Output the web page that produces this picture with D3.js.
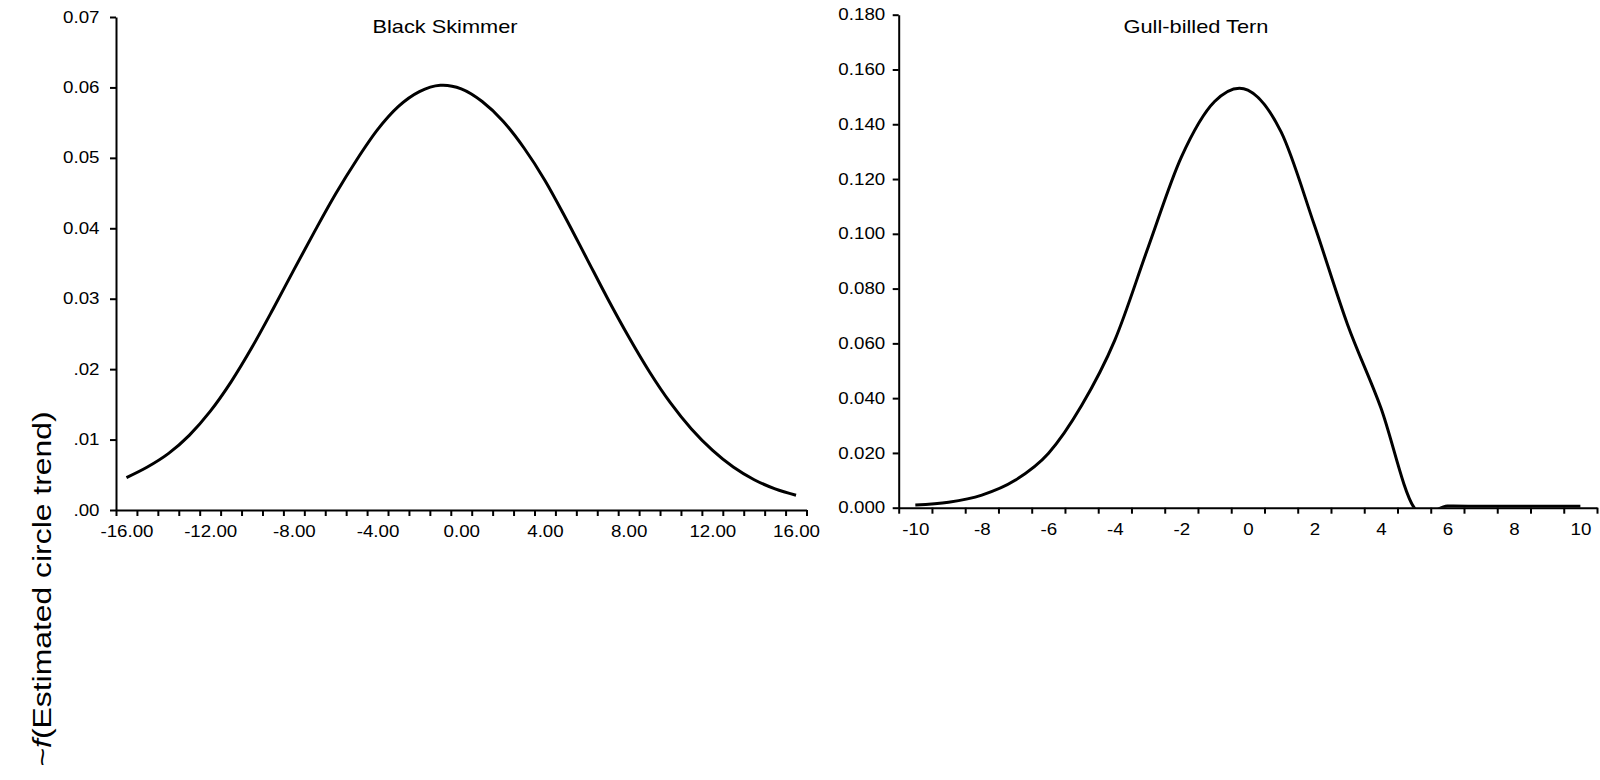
<!DOCTYPE html>
<html>
<head>
<meta charset="utf-8">
<script src="https://cdn.jsdelivr.net/npm/d3@7"></script>
<style>
  html, body { margin: 0; padding: 0; background: #fff; }
  svg { display: block; }
  text { font-family: "Liberation Sans", Arial, Helvetica, sans-serif; fill: #000; }
</style>
</head>
<body>
<svg id="chart" width="1600" height="780"></svg>
<script>
// ---------------- DATA ----------------
const skimmerTitle = "Black Skimmer";
const skimmerCategories = [-16,-15,-14,-13,-12,-11,-10,-9,-8,-7,-6,-5,-4,-3,-2,-1,0,1,2,3,4,5,6,7,8,9,10,11,12,13,14,15,16];
const skimmerDensity = [0.0046,0.0061,0.0080,0.0106,0.0140,0.0182,0.0231,0.0285,0.0341,0.0396,0.0449,0.0497,0.0540,0.0573,0.0594,0.0603,
                        0.0598,0.0580,0.0552,0.0514,0.0468,0.0414,0.0357,0.0300,0.0246,0.0196,0.0152,0.0115,0.0085,0.0061,0.0043,0.0030,0.0021];
const skimmerXLabelValues = [-16,-12,-8,-4,0,4,8,12,16];
const skimmerXLabels = ["-16.00","-12.00","-8.00","-4.00","0.00","4.00","8.00","12.00","16.00"];
const skimmerYTickValues = [0,0.01,0.02,0.03,0.04,0.05,0.06,0.07];
const skimmerYLabels = [".00",".01",".02","0.03","0.04","0.05","0.06","0.07"];

const ternTitle = "Gull-billed Tern";
const ternCategories = [-10,-9,-8,-7,-6,-5,-4,-3,-2,-1,0,1,2,3,4,5,6,7,8,9,10];
const ternDensity = [0.0010,0.0020,0.0046,0.0100,0.0198,0.0373,0.0612,0.0950,0.1280,0.1483,0.1525,0.1372,0.1032,0.0668,0.0365,0.0000,
                     0.0006,0.0005,0.0005,0.0005,0.0005];
const ternXLabelValues = [-10,-8,-6,-4,-2,0,2,4,6,8,10];
const ternXLabels = ["-10","-8","-6","-4","-2","0","2","4","6","8","10"];
const ternYTickValues = [0,0.02,0.04,0.06,0.08,0.10,0.12,0.14,0.16,0.18];
const ternYLabels = ["0.000","0.020","0.040","0.060","0.080","0.100","0.120","0.140","0.160","0.180"];

const yAxisTitleSymbol = "f";
const yAxisTitleRest = "(Estimated circle trend)";

// ---------------- LAYOUT ----------------
const svg = d3.select("#chart");
const STRETCH = 1.17;

function stretchTexts(sel) {
  sel.selectAll("text").each(function () {
    const w = this.getComputedTextLength();
    d3.select(this).attr("textLength", w * STRETCH).attr("lengthAdjust", "spacingAndGlyphs");
  });
}

function panel(cfg) {
  const cats = cfg.categories;
  const x = d3.scaleLinear()
    .domain([d3.min(cats) - 0.5, d3.max(cats) + 0.5])
    .range([cfg.left, cfg.right]);
  const y = d3.scaleLinear()
    .domain([0, d3.max(cfg.yTicks)])
    .range([cfg.bottom, cfg.top]);

  const g = svg.append("g");

  const clipId = "clip-" + cfg.id;
  g.append("clipPath").attr("id", clipId)
    .append("rect")
    .attr("x", cfg.left).attr("y", cfg.top)
    .attr("width", cfg.right - cfg.left).attr("height", cfg.bottom - cfg.top);

  const yAxis = g.append("g")
    .attr("transform", `translate(${cfg.left},0)`)
    .call(d3.axisLeft(y)
      .tickValues(cfg.yTicks)
      .tickFormat((d, i) => cfg.yLabels[i])
      .tickSize(6).tickSizeOuter(0).tickPadding(cfg.yPad));
  yAxis.selectAll("text").style("font-size", "16px");
  yAxis.select(".domain").attr("stroke-width", 2);
  yAxis.selectAll(".tick line").attr("stroke-width", 2);
  stretchTexts(yAxis);

  const bounds = d3.range(cats.length + 1).map(i => d3.min(cats) - 0.5 + i);
  const xAxis = g.append("g")
    .attr("transform", `translate(0,${cfg.bottom})`)
    .call(d3.axisBottom(x).tickValues(bounds).tickFormat("").tickSize(6).tickSizeOuter(0));
  xAxis.select(".domain").attr("stroke-width", 2);
  xAxis.selectAll(".tick line").attr("stroke-width", 2);

  const xLab = g.append("g")
    .attr("transform", `translate(0,${cfg.bottom})`)
    .call(d3.axisBottom(x).tickValues(cfg.xLabelValues)
      .tickFormat((d, i) => cfg.xLabels[i]).tickSize(0).tickPadding(15.5));
  xLab.select(".domain").remove();
  xLab.selectAll("text").style("font-size", "16px");
  stretchTexts(xLab);

  const data = cats.map((c, i) => ({ v: c, p: cfg.values[i] }));
  const line = d3.line()
    .x(d => x(d.v)).y(d => y(d.p))
    .curve(d3.curveCardinal.tension(0));
  g.append("path")
    .datum(data)
    .attr("clip-path", `url(#${clipId})`)
    .attr("fill", "none")
    .attr("stroke", "#000")
    .attr("stroke-width", 3)
    .attr("d", line);

  g.append("text")
    .attr("x", cfg.titleX).attr("y", 33.3)
    .attr("text-anchor", "middle")
    .style("font-size", "18.5px")
    .attr("textLength", 145).attr("lengthAdjust", "spacingAndGlyphs")
    .text(cfg.title);
}

panel({
  id: "skimmer", categories: skimmerCategories, values: skimmerDensity,
  xLabelValues: skimmerXLabelValues, xLabels: skimmerXLabels,
  yTicks: skimmerYTickValues, yLabels: skimmerYLabels,
  left: 116, right: 806.5, top: 17, bottom: 510, yPad: 10.5,
  title: skimmerTitle, titleX: 445
});

panel({
  id: "tern", categories: ternCategories, values: ternDensity,
  xLabelValues: ternXLabelValues, xLabels: ternXLabels,
  yTicks: ternYTickValues, yLabels: ternYLabels,
  left: 898.7, right: 1597, top: 14.7, bottom: 507.7, yPad: 7.5,
  title: ternTitle, titleX: 1196
});

const yt = svg.append("text")
  .attr("transform", "translate(51,589) rotate(-90)")
  .attr("text-anchor", "middle")
  .style("font-size", "26px")
  .attr("textLength", 355).attr("lengthAdjust", "spacingAndGlyphs");
yt.append("tspan").text("~");
yt.append("tspan").style("font-style", "italic").text(yAxisTitleSymbol);
yt.append("tspan").text(yAxisTitleRest);
</script>
</body>
</html>
